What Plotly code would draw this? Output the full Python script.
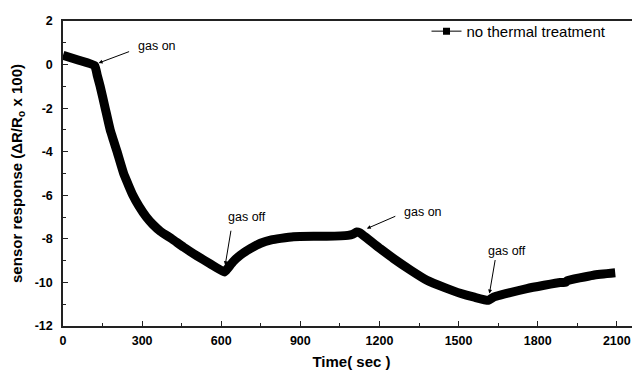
import plotly.graph_objects as go

# ---- data ----
time_s = [0, 60, 120, 130, 141, 160, 179, 192, 205, 230, 247, 265, 288, 316, 340, 370, 413,
          457, 508, 560, 612, 625, 645, 672, 710, 749, 790, 825, 874, 950, 1000, 1080, 1100,
          1114, 1125, 1203, 1253, 1320, 1380, 1450, 1506, 1560, 1613, 1635, 1658, 1759, 1885,
          1905, 1912, 2011, 2094]
response = [0.43, 0.2, -0.05, -0.5, -1.0, -2.0, -3.0, -3.5, -4.0, -5.0, -5.5, -6.0, -6.5, -7.0,
            -7.33, -7.66, -8.0, -8.38, -8.78, -9.16, -9.52, -9.35, -9.05, -8.75, -8.45, -8.2,
            -8.05, -7.98, -7.9, -7.88, -7.88, -7.84, -7.78, -7.68, -7.72, -8.45, -8.9, -9.45,
            -9.9, -10.25, -10.5, -10.68, -10.82, -10.66, -10.58, -10.28, -10.0, -10.0, -9.92,
            -9.67, -9.56]

x_tickvals = [0, 300, 600, 900, 1200, 1500, 1800, 2100]
x_ticktext = ["0", "300", "600", "900", "1200", "1500", "1800", "2100"]
y_tickvals = [2, 0, -2, -4, -6, -8, -10, -12]
y_ticktext = ["2", "0", "-2", "-4", "-6", "-8", "-10", "-12"]

series_name = "no thermal treatment"

# annotations: (text, arrow-tip time, arrow-tip response)
events = [
    ("gas on", 135, 0.07),
    ("gas off", 615, -9.21),
    ("gas on", 1152, -7.53),
    ("gas off", 1617, -10.51),
]

FONT = "Liberation Sans, Arial, sans-serif"

fig = go.Figure()
fig.add_trace(go.Scatter(
    x=time_s, y=response, mode="lines",
    line=dict(color="black", width=9, shape="spline", smoothing=0.4),
    showlegend=False, hoverinfo="skip",
))
fig.add_trace(go.Scatter(
    x=[None], y=[None], mode="lines+markers", name=series_name,
    line=dict(color="black", width=1),
    marker=dict(symbol="square", size=7, color="black"),
))

# arrow tail offsets in pixels relative to the tip, and text centre offsets
offsets = [(32, -12), (6, -36), (30, -13), (6, -35)]
text_pos = [(58, -17), (22, -48), (56, -17), (18, -43)]
for (txt, tx, ty), (ax, ay), (sx, sy) in zip(events, offsets, text_pos):
    fig.add_annotation(x=tx, y=ty, ax=ax, ay=ay, axref="pixel", ayref="pixel",
                       showarrow=True, arrowhead=2, arrowsize=0.8, arrowwidth=1,
                       arrowcolor="black", text="")
    fig.add_annotation(x=tx, y=ty, xshift=sx, yshift=-sy,
                       showarrow=False, text=txt,
                       font=dict(family=FONT, size=12.5, color="black"))

axis_common = dict(
    showgrid=False, zeroline=False, showline=True, linecolor="#222", linewidth=1.5,
    ticks="inside", ticklen=5, tickwidth=1, tickcolor="#222", automargin=False,
    tickfont=dict(family=FONT, size=12.5, color="black", weight="bold"),
)

fig.update_xaxes(
    range=[0, 2188], tickvals=x_tickvals, ticktext=x_ticktext, mirror=True,
    ticklabelstandoff=2,
    minor=dict(dtick=150, tick0=0, ticks="inside", ticklen=3, tickcolor="#222"),
    title=dict(text="Time( sec )", font=dict(family=FONT, size=15, color="black", weight="bold"),
               standoff=10),
    **axis_common,
)
fig.update_yaxes(
    range=[-12, 2], tickvals=y_tickvals, ticktext=y_ticktext, mirror=False,
    ticklabelstandoff=6,
    minor=dict(dtick=1, tick0=0, ticks="inside", ticklen=3, tickcolor="#222"),
    title=dict(text="sensor response (ΔR/R<sub>o</sub> x 100)",
               font=dict(family=FONT, size=15, color="black", weight="bold"), standoff=10),
    **axis_common,
)

# the page body has an 8px margin, so the figure is 8px smaller and margins shifted
fig.update_layout(
    width=632, height=364,
    margin=dict(l=55, r=0, t=13, b=46),
    plot_bgcolor="white", paper_bgcolor="white",
    legend=dict(x=0.63, y=1.02, xanchor="left", yanchor="top",
                bgcolor="rgba(0,0,0,0)", font=dict(family=FONT, size=15, color="black"),
                itemwidth=30),
)

fig.write_html("out.html")
